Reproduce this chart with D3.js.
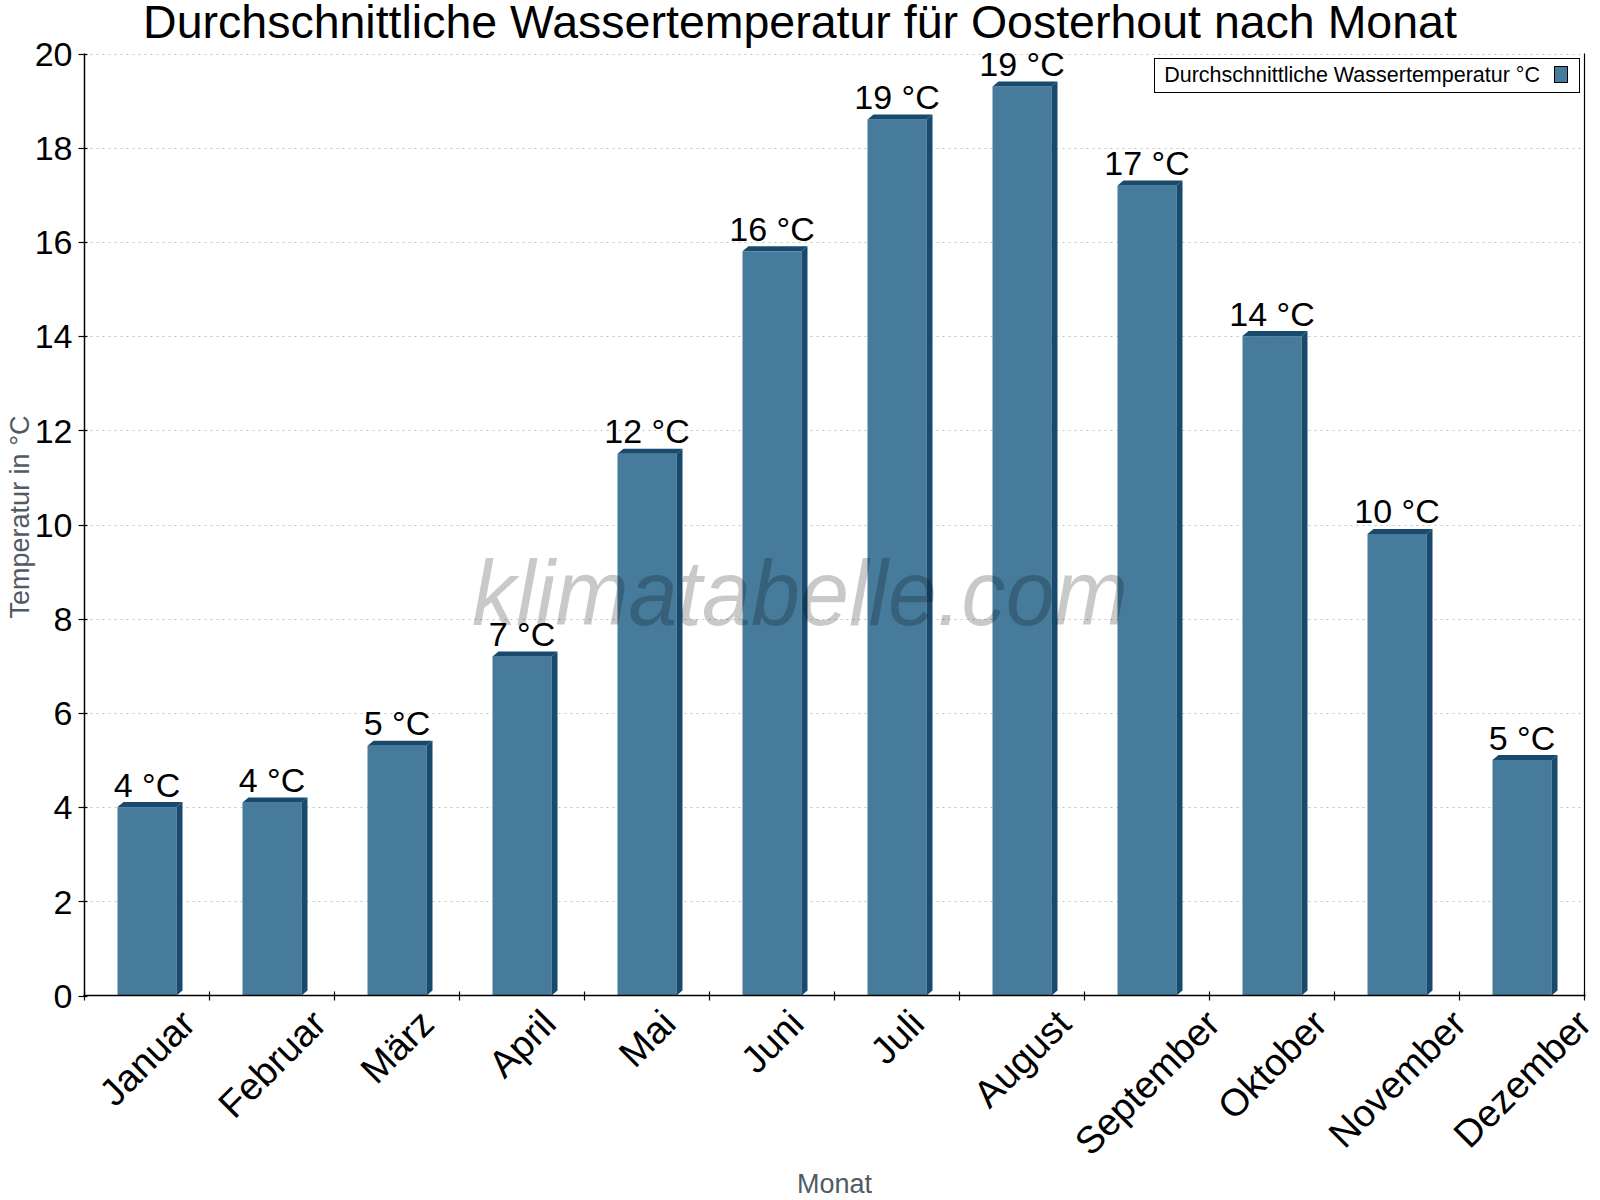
<!DOCTYPE html>
<html>
<head>
<meta charset="utf-8">
<script src="https://cdn.jsdelivr.net/npm/d3@7/dist/d3.min.js"></script>
<style>
  html, body { margin: 0; padding: 0; background: #fff; }
  svg { display: block; }
  text { font-family: "Liberation Sans", Arial, sans-serif; }
</style>
</head>
<body>
<svg id="chart" width="1600" height="1200"></svg>
<script>
const months = ["Januar","Februar","März","April","Mai","Juni","Juli","August","September","Oktober","November","Dezember"];
const temps = [4.0, 4.1, 5.3, 7.2, 11.5, 15.8, 18.6, 19.3, 17.2, 14.0, 9.8, 5.0];
const yTicks = [0, 2, 4, 6, 8, 10, 12, 14, 16, 18, 20];
const titleText = "Durchschnittliche Wassertemperatur für Oosterhout nach Monat";
const seriesName = "Durchschnittliche Wassertemperatur °C";
const yTitle = "Temperatur in °C";
const xTitle = "Monat";
const watermark = "klimatabelle.com";

(function () {
const svg = d3.select("#chart");
const W = 1600, H = 1200;
svg.append("rect").attr("width", W).attr("height", H).attr("fill", "#fff");

const pL = 84.5, pR = 1584.5, pT = 53.5, pB = 995.5;
const x = d3.scaleBand().domain(months).range([pL, pR]).padding(0);
const y = d3.scaleLinear().domain([0, 20]).range([pB, pT]);

const FRONT = "#467b9c", DARK = "#174a6c";
const dx = 6, dy = 5;

// gridlines
svg.append("g").selectAll("line").data(yTicks.filter(d => d > 0)).join("line")
  .attr("x1", pL).attr("x2", pR)
  .attr("y1", d => Math.round(y(d)) + 0.5).attr("y2", d => Math.round(y(d)) + 0.5)
  .attr("stroke", "#c4c4c4").attr("stroke-width", 1).attr("stroke-dasharray", "2,4");

// bars
const bw = x.bandwidth() * 0.472;
const bars = svg.append("g");
months.forEach((m, i) => {
  const v = temps[i];
  const cx = x(m) + x.bandwidth() / 2;
  const x0 = cx - bw / 2, x1 = cx + bw / 2;
  const yv = y(v), y0 = y(0);
  bars.append("rect").attr("x", x0).attr("y", yv).attr("width", bw).attr("height", y0 - yv).attr("fill", FRONT);
  bars.append("path").attr("d", `M${x0},${yv}L${x0+dx},${yv-dy}L${x1+dx},${yv-dy}L${x1},${yv}Z`).attr("fill", DARK);
  bars.append("path").attr("d", `M${x1},${yv}L${x1+dx},${yv-dy}L${x1+dx},${y0-dy}L${x1},${y0}Z`).attr("fill", DARK);
});

// watermark
svg.append("text").attr("x", 472).attr("y", 625)
  .attr("font-size", 92).attr("font-family", "Roboto, 'Liberation Sans', sans-serif")
  .attr("font-style", "italic").attr("font-weight", 300)
  .attr("textLength", 656).attr("lengthAdjust", "spacingAndGlyphs")
  .attr("fill", "#000").attr("fill-opacity", 0.21).text(watermark);

// value labels
svg.append("g").selectAll("text").data(months).join("text")
  .attr("x", d => x(d) + x.bandwidth() / 2)
  .attr("y", (d, i) => y(temps[i]) - 10.5)
  .attr("text-anchor", "middle")
  .attr("font-size", 34)
  .attr("fill", "#000")
  .text((d, i) => Math.round(temps[i]) + " °C");

// axes
const axisG = svg.append("g");
axisG.append("line").attr("x1", pL).attr("x2", pL).attr("y1", pT).attr("y2", pB).attr("stroke", "#000").attr("stroke-width", 1.5);
axisG.append("line").attr("x1", pR).attr("x2", pR).attr("y1", pT).attr("y2", pB).attr("stroke", "#000").attr("stroke-width", 1.2);
axisG.append("line").attr("x1", pL - 1).attr("x2", pR + 1).attr("y1", pB).attr("y2", pB).attr("stroke", "#000").attr("stroke-width", 1.5);

// y ticks & labels
axisG.selectAll(".yt").data(yTicks).join("line")
  .attr("x1", pL - 6).attr("x2", pL + 3)
  .attr("y1", d => Math.round(y(d)) + 0.5).attr("y2", d => Math.round(y(d)) + 0.5)
  .attr("stroke", "#000").attr("stroke-width", 1.2);
axisG.selectAll(".yl").data(yTicks).join("text")
  .attr("x", pL - 12).attr("y", d => y(d))
  .attr("dy", "0.36em")
  .attr("text-anchor", "end").attr("font-size", 34).attr("fill", "#000")
  .text(d => d);

// x ticks at band boundaries
const bounds = months.map(m => x(m)).concat([pR]);
axisG.selectAll(".xt").data(bounds).join("line")
  .attr("x1", d => d).attr("x2", d => d)
  .attr("y1", pB - 4).attr("y2", pB + 5)
  .attr("stroke", "#000").attr("stroke-width", 1.2);

// x labels rotated 45
const xl = svg.append("g");
const fsX = 38;
months.forEach(m => {
  const t = xl.append("text").attr("font-size", fsX).attr("text-anchor", "middle").attr("dy", "0.35em").attr("fill", "#000").text(m);
  const w = t.node().getComputedTextLength();
  const h = fsX * 0.72;
  const cx = x(m) + x.bandwidth() / 2;
  const cy = 1007 + (w + h) * 0.7071 / 2;
  t.attr("transform", `translate(${cx},${cy}) rotate(-45)`);
});

// axis titles
svg.append("text").attr("transform", `translate(29,517) rotate(-90)`)
  .attr("text-anchor", "middle").attr("font-size", 27).attr("fill", "#525a63").text(yTitle);
svg.append("text").attr("x", (pL + pR) / 2).attr("y", 1193)
  .attr("text-anchor", "middle").attr("font-size", 27).attr("fill", "#525a63").text(xTitle);

// title
svg.append("text").attr("x", 800).attr("y", 38).attr("text-anchor", "middle")
  .attr("font-size", 46.5).attr("fill", "#000").text(titleText);

// legend
const lg = svg.append("g");
lg.append("rect").attr("x", 1154.5).attr("y", 58.5).attr("width", 425).attr("height", 34)
  .attr("fill", "#fff").attr("stroke", "#000").attr("stroke-width", 1);
lg.append("text").attr("x", 1540).attr("y", 82).attr("text-anchor", "end").attr("font-size", 21.5).attr("fill", "#000").text(seriesName);
lg.append("rect").attr("x", 1554.5).attr("y", 66.5).attr("width", 13).attr("height", 16)
  .attr("fill", FRONT).attr("stroke", "#000").attr("stroke-width", 1);
})();
</script>
</body>
</html>
